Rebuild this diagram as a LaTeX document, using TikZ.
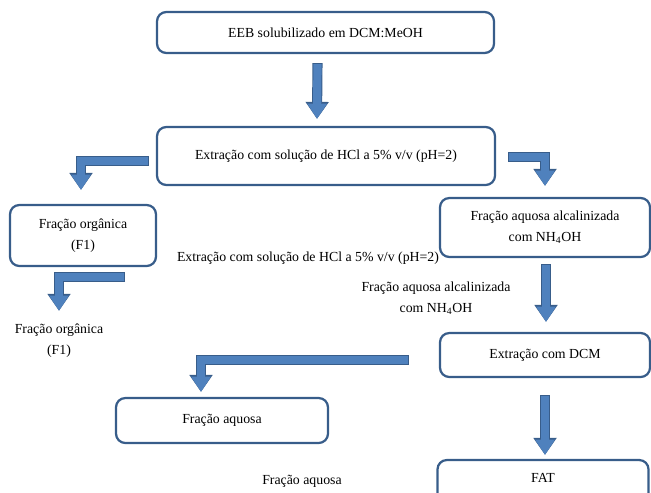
\documentclass[tikz,border=0pt]{standalone}
\usepackage{fontspec}
\setmainfont{Liberation Serif}
\definecolor{boxblue}{RGB}{56,93,138}
\definecolor{arrfill}{RGB}{79,129,189}
\definecolor{arredge}{RGB}{56,93,138}
\usetikzlibrary{arrows.meta,positioning,calc}

\begin{document}
\begin{tikzpicture}[x=0.03cm,y=-0.03cm,
  stage/.style={draw=boxblue,line width=1.9pt,rounded corners=8pt,fill=white,
    font=\fontsize{11.8}{18}\selectfont,align=center,inner sep=2pt},
  freetxt/.style={font=\fontsize{11.8}{18}\selectfont,align=center,inner sep=1pt},
  blockarr/.style={draw=arrfill,line width=7pt,line join=miter,shorten <=0.8pt,
    -{Triangle[length=13pt,width=16pt]},
    preaction={draw=arredge,line width=8.6pt,shorten <=0pt,
      -{Triangle[length=14.5pt,width=19pt]}}}
]
  \useasboundingbox (0,0) rectangle (651,492);
  \clip (0,0) rectangle (651,492);

  % Boxes
  \node[stage,minimum width=10.11cm,minimum height=1.23cm] (eeb) at (325.5,32.5) {EEB solubilizado em DCM:MeOH};
  \node[stage,minimum width=10.14cm,minimum height=1.74cm] (hcl) at (326,156) {Extração com solução de HCl a 5\% v/v (pH=2)};
  \node[stage,minimum width=4.38cm,minimum height=1.83cm] (org) at (83,235.5) {Fração orgânica\\(F1)};
  \node[stage,minimum width=6.3cm,minimum height=1.77cm] (alc) at (545,227.5) {Fração aquosa alcalinizada\\com NH\textsubscript{4}OH};
  \node[stage,minimum width=6.3cm,minimum height=1.32cm] (dcm) at (545,355) {Extração com DCM};
  \node[stage,minimum width=6.36cm,minimum height=1.35cm] (aq) at (222,420.5) {Fração aquosa};
  \node[stage,minimum width=6.33cm,minimum height=1.32cm] (fat) at (543,482) {};
  \node[freetxt] (fattxt) at (543,478) {FAT};

  % Loose labels
  \node[freetxt] (hcltxt) at (308,258) {Extração com solução de HCl a 5\% v/v (pH=2)};
  \node[freetxt] (alctxt) at (436,298) {Fração aquosa alcalinizada\\com NH\textsubscript{4}OH};
  \node[freetxt] (orgtxt) at (59,341) {Fração orgânica\\(F1)};
  \node[freetxt] (aqtxt) at (302,481) {Fração aquosa};

  % Arrows
  \draw[blockarr] ([shift={(-8,9)}]eeb.south) -- ([shift={(-9,-7)}]hcl.north);
  \draw[blockarr] ([shift={(-7,5)}]hcl.west) -| ([shift={(-2,-14)}]org.north);
  \draw[blockarr] ([shift={(12,1)}]hcl.east) -| ([shift={(0,-11)}]alc.north);
  \draw[blockarr] ([shift={(42,10)}]org.south) -| ([shift={(0,-12)}]orgtxt.north);
  \draw[blockarr] ([shift={(1,6)}]alc.south) -- ([shift={(1,-10)}]dcm.north);
  \draw[blockarr] ([shift={(-30,5)}]dcm.west) -| ([shift={(-21,-5)}]aq.north);
  \draw[blockarr] ([shift={(0,17)}]dcm.south) -- ([shift={(2,-4)}]fat.north);
\end{tikzpicture}
\end{document}
